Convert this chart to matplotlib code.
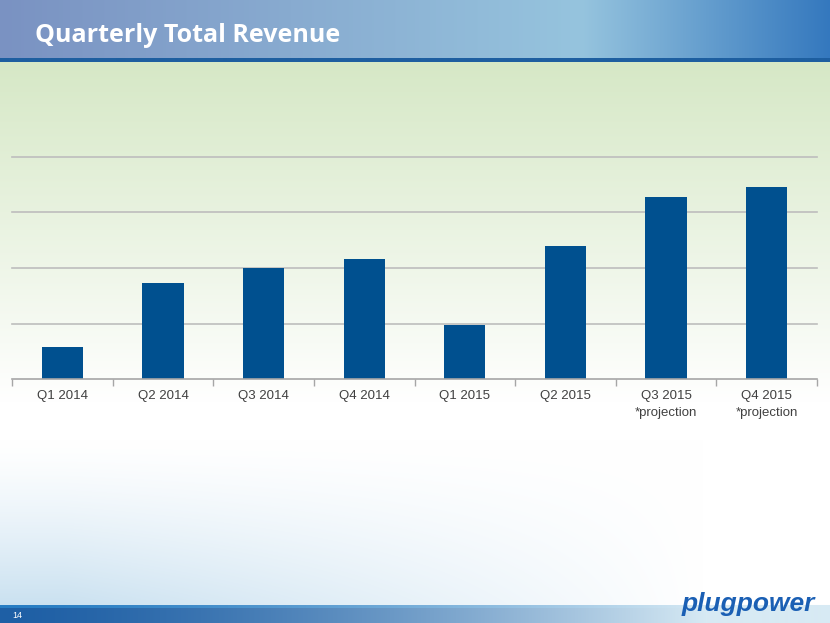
import numpy as np
import matplotlib
matplotlib.use('Agg')
import matplotlib.pyplot as plt

plt.rcParams['font.family'] = ['Liberation Sans', 'DejaVu Sans']

quarters = ['Q1 2014', 'Q2 2014', 'Q3 2014', 'Q4 2014',
            'Q1 2015', 'Q2 2015', 'Q3 2015\n*projection', 'Q4 2015\n*projection']
revenue = [5.8, 17.3, 20.0, 21.6, 9.7, 24.0, 32.8, 34.6]

W, H = 830, 623
fig = plt.figure(figsize=(W / 100, H / 100), dpi=100)

# slide background built as an image
yy, xx = np.mgrid[0:H, 0:W]
fx = xx / (W - 1)
img = np.ones((H, W, 3))

# body: light green on top, white in the middle, light blue at the bottom left
green = np.array([214, 232, 198]) / 255
blue = np.array([200, 224, 240]) / 255
white = np.array([1.0, 1.0, 1.0])
t_top = np.clip((yy - 62) / 340.0, 0, 1)[..., None]
body = green * (1 - t_top) + white * t_top
t_bot = (np.clip((yy - 440) / 170.0, 0, 1) ** 1.3)[..., None] * np.clip(1.1 - fx * 1.3, 0, 1)[..., None]
body = body * (1 - t_bot) + blue * t_bot
img[:] = body

# header band
hl = np.array([122, 146, 194]) / 255
hm = np.array([150, 196, 222]) / 255
hr = np.array([52, 120, 190]) / 255
hdr = np.where(fx[..., None] < 0.7,
               hl + (hm - hl) * (fx[..., None] / 0.7),
               hm + (hr - hm) * ((fx[..., None] - 0.7) / 0.3))
img[:58] = hdr[:58]
img[58:62] = np.array([30, 95, 160]) / 255

# footer band
fl = np.array([30, 95, 165]) / 255
fr = np.array([215, 234, 244]) / 255
tf = (np.clip(fx / 0.85, 0, 1) ** 1.5)[..., None]
foot = fl * (1 - tf) + fr * tf
img[605:608] = (np.array([40, 125, 195]) / 255) * (1 - tf[605:608]) + fr * tf[605:608]
img[608:] = foot[608:]

bg = fig.add_axes([0, 0, 1, 1])
bg.imshow(img, aspect='auto', extent=(0, W, H, 0))
bg.set_xlim(0, W)
bg.set_ylim(H, 0)
bg.axis('off')

bg.text(35, 36, 'Quarterly Total Revenue', color='white', fontsize=18,
        fontweight='bold', va='center', ha='left', family=['Open Sans', 'DejaVu Sans'])
bg.text(12, 616, '14', color='white', fontsize=6.5, va='center', ha='left')
bg.text(815, 604, 'plugpower', color='#1A5FB4', fontsize=19, fontweight='bold',
        fontstyle='italic', va='center', ha='right')

# the chart
ax = fig.add_axes([12 / W, 1 - 379 / H, (817 - 12) / W, (379 - 157) / H])
ax.patch.set_alpha(0)
x = np.arange(len(quarters))
ax.bar(x, revenue, width=0.41, color='#00508F', zorder=3)
ax.set_xlim(-0.5, len(quarters) - 0.5)
ax.set_ylim(0, 40)
ax.set_yticks([10, 20, 30, 40])
ax.yaxis.grid(True, color='#BDBDBD', linewidth=1.2, zorder=0)
ax.tick_params(axis='y', left=False, labelleft=False)
for s in ['top', 'right', 'left']:
    ax.spines[s].set_visible(False)
ax.spines['bottom'].set_color('#A6A6A6')
ax.spines['bottom'].set_linewidth(1.2)
ax.spines['bottom'].set_zorder(4)
ax.set_xticks(x)
ax.set_xticklabels(quarters, fontsize=9.5, color='#404040', linespacing=1.5)
ax.tick_params(axis='x', which='major', length=0, pad=8)
ax.set_xticks(np.arange(len(quarters) + 1) - 0.5, minor=True)
ax.tick_params(axis='x', which='minor', length=5, color='#A6A6A6', width=1)
for line in ax.get_ygridlines():
    line.set_clip_on(False)

fig.savefig('out.png', dpi=100)
